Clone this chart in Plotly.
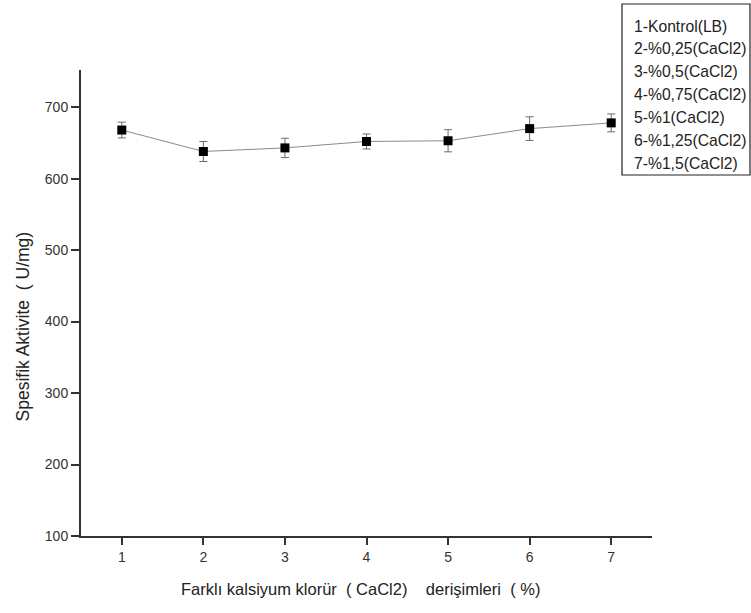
import plotly.graph_objects as go

# ---- data ----
x_vals = [1, 2, 3, 4, 5, 6, 7]
activity = [668, 638, 643, 652, 653, 670, 678]
errors = [11, 14, 13.5, 10.5, 15.5, 16.5, 12.5]
legend_labels = [
    "1-Kontrol(LB)",
    "2-%0,25(CaCl2)",
    "3-%0,5(CaCl2)",
    "4-%0,75(CaCl2)",
    "5-%1(CaCl2)",
    "6-%1,25(CaCl2)",
    "7-%1,5(CaCl2)",
]
y_ticks = [100, 200, 300, 400, 500, 600, 700]
x_title = "Farklı kalsiyum klorür  ( CaCl2)    derişimleri  ( %)"
y_title = "Spesifik Aktivite  ( U/mg)"

FONT = "Arial, 'Liberation Sans', sans-serif"
W, H = 751, 613
L, R, T, B = 81, 99, 70, 77
pw, ph = W - L - R, H - T - B


def px_x(px):
    return (px - L) / pw


def px_y(py):
    return (H - B - py) / ph


fig = go.Figure()
fig.add_trace(go.Scatter(
    x=x_vals, y=activity,
    mode="lines+markers",
    line=dict(color="#8a8a8a", width=1),
    marker=dict(symbol="square", size=9, color="black"),
    error_y=dict(type="data", array=errors, visible=True,
                 color="#6a6a6a", thickness=1, width=4),
    showlegend=False,
))

# legend box
fig.add_shape(type="rect", xref="paper", yref="paper",
              x0=px_x(622), x1=px_x(750), y0=px_y(175), y1=px_y(4),
              line=dict(color="#222", width=1.2), fillcolor="white")
for i, lab in enumerate(legend_labels):
    fig.add_annotation(xref="paper", yref="paper",
                       x=px_x(632), y=px_y(26 + i * 22.9),
                       xanchor="left", yanchor="middle",
                       text=lab, showarrow=False,
                       font=dict(family=FONT, size=15.7, color="#222"))

# axis titles
fig.add_annotation(xref="paper", yref="paper", x=px_x(360), y=px_y(589),
                   xanchor="center", yanchor="middle", showarrow=False,
                   text=x_title, font=dict(family=FONT, size=16.5, color="#222"))
fig.add_annotation(xref="paper", yref="paper", x=px_x(22.5), y=px_y(327),
                   xanchor="center", yanchor="middle", showarrow=False,
                   textangle=-90,
                   text=y_title, font=dict(family=FONT, size=17.5, color="#222"))

fig.update_layout(
    width=W, height=H,
    margin=dict(l=L, r=R, t=T, b=B),
    plot_bgcolor="white", paper_bgcolor="white",
    font=dict(family=FONT, color="#222"),
    xaxis=dict(
        range=[0.5, 7.5], tickvals=x_vals, ticktext=[str(v) for v in x_vals],
        showgrid=False, zeroline=False, showline=True,
        linecolor="#333", linewidth=2, ticks="outside", ticklen=7,
        tickwidth=2, tickcolor="#333", tickfont=dict(size=14, color="#333"),
    ),
    yaxis=dict(
        range=[100, 752], tickvals=y_ticks,
        showgrid=False, zeroline=False, showline=True,
        linecolor="#333", linewidth=2, ticks="outside", ticklen=8,
        tickwidth=2, tickcolor="#333", tickfont=dict(size=14, color="#333"),
    ),
)

fig.write_html("out.html")
